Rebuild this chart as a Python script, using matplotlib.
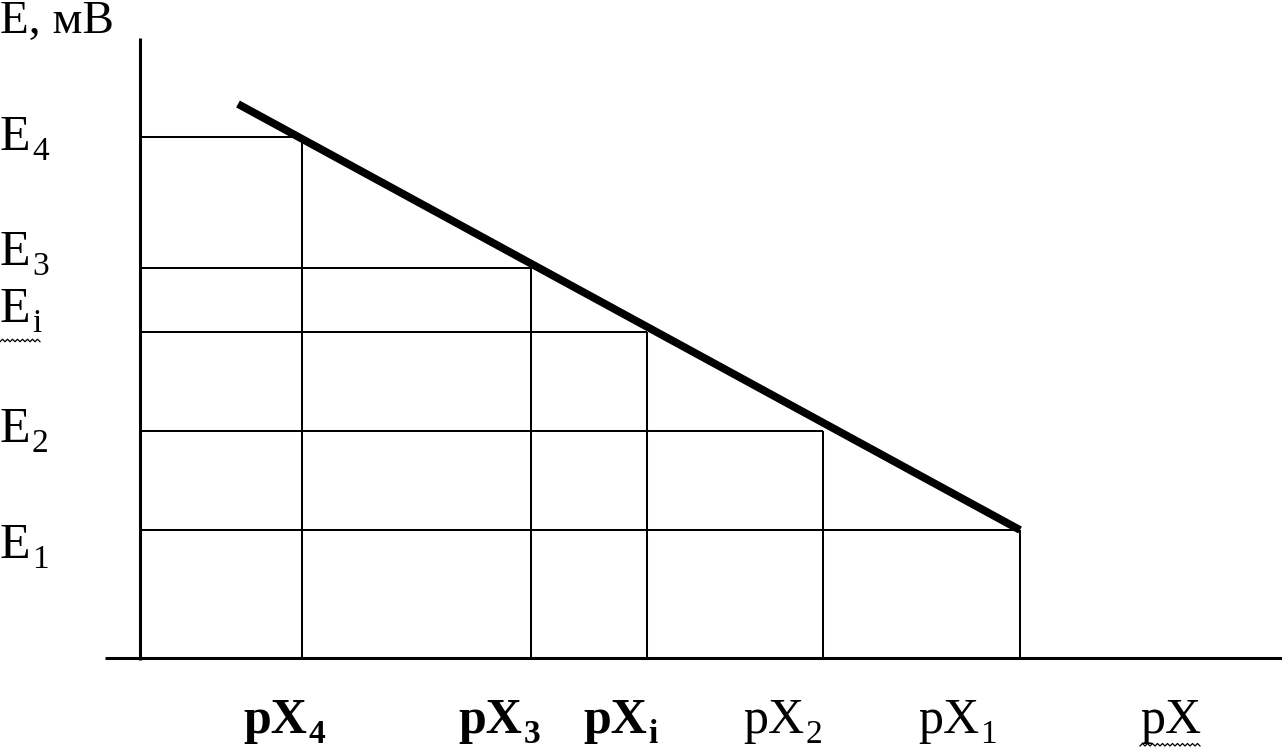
import matplotlib
matplotlib.use("Agg")
import matplotlib.pyplot as plt
import numpy as np

plt.rcParams['font.family'] = ['Liberation Serif', 'DejaVu Serif']

# ---- data (arbitrary units) ----
px_main = ['pX', 'pX', 'pX', 'pX', 'pX']
px_sub = ['4', '3', 'i', '2', '1']
e_main = ['E', 'E', 'E', 'E', 'E']
e_sub = ['4', '3', 'i', '2', '1']
pX_vals = [1.62, 3.91, 5.07, 6.83, 8.80]
E_vals = [5.21, 3.90, 3.26, 2.27, 1.28]
line_pX = [0.98, 8.80]
line_E = [5.54, 1.28]
x_axis_label = 'pX'
y_axis_label = 'E, мВ'

# ---- layout ----
fig = plt.figure(figsize=(12.82, 7.48), dpi=100)
ax = fig.add_axes([0, 0, 1, 1])
ax.set_xlim(-1.40, 11.42)
ax.set_ylim(-0.90, 6.58)
ax.axis('off')

# axes lines
ax.plot([-0.35, 11.42], [0, 0], color='black', lw=2.2, solid_capstyle='butt')
ax.plot([0, 0], [-0.02, 6.20], color='black', lw=2.2, solid_capstyle='butt')

# guide lines
for x, y in zip(pX_vals, E_vals):
    ax.plot([0, x], [y, y], color='black', lw=1.45, solid_capstyle='butt')
    ax.plot([x, x], [y, 0], color='black', lw=1.45, solid_capstyle='butt')

# calibration line
ax.plot(line_pX, line_E, color='black', lw=5.6, solid_capstyle='butt')

fs = 36
fs_sub = 24
ax.text(-1.40, 6.25, y_axis_label, fontsize=34, ha='left', va='baseline')

e_base = [5.08, 3.93, 3.36, 2.16, 1.00]
e_texts = [ax.text(-1.40, yb, m, fontsize=fs, ha='left', va='baseline')
           for m, yb in zip(e_main, e_base)]

px_left = [1.03, 3.18, 4.43, 6.03, 7.78]
bold = [True, True, True, False, False]
px_texts = [ax.text(xl, -0.75, m, fontsize=fs, ha='left', va='baseline',
                    fontweight='bold' if b else 'normal')
            for m, xl, b in zip(px_main, px_left, bold)]
px_last = ax.text(10.00, -0.75, x_axis_label, fontsize=fs, ha='left', va='baseline')

fig.canvas.draw()
r = fig.canvas.get_renderer()

# subscripts placed right after the main glyphs, dropped below baseline
def add_sub(t, s, bold_=False):
    bb = t.get_window_extent(r)
    xy = t.get_position()
    return ax.annotate(s, xy=xy, xycoords='data',
                       xytext=((bb.x1 - bb.x0) * 0.72 + 1, -7), textcoords='offset points',
                       fontsize=fs_sub, ha='left', va='baseline',
                       fontweight='bold' if bold_ else 'normal')

e_subs = [add_sub(t, s) for t, s in zip(e_texts, e_sub)]
px_subs = [add_sub(t, s, b) for t, s, b in zip(px_texts, px_sub, bold)]

fig.canvas.draw()
# spell-check squiggles under some labels
def squiggle(x0, x1, y):
    xs = np.arange(x0, x1, 2.5)
    ys = y + np.where(np.arange(len(xs)) % 2 == 0, 0, 2.5)
    fig.add_artist(plt.Line2D(xs, ys, color='black', lw=0.9, transform=None))

for t, s in [(e_texts[2], e_subs[2]), (px_texts[2], px_subs[2])]:
    b1 = t.get_window_extent(r)
    b2 = s.get_window_extent(r)
    squiggle(b1.x0, b2.x1, min(b1.y0, b2.y0) - 3)
bb = px_last.get_window_extent(r)
squiggle(bb.x0, bb.x1, bb.y0 - 2)

fig.savefig('out.png', dpi=100, facecolor='white')
